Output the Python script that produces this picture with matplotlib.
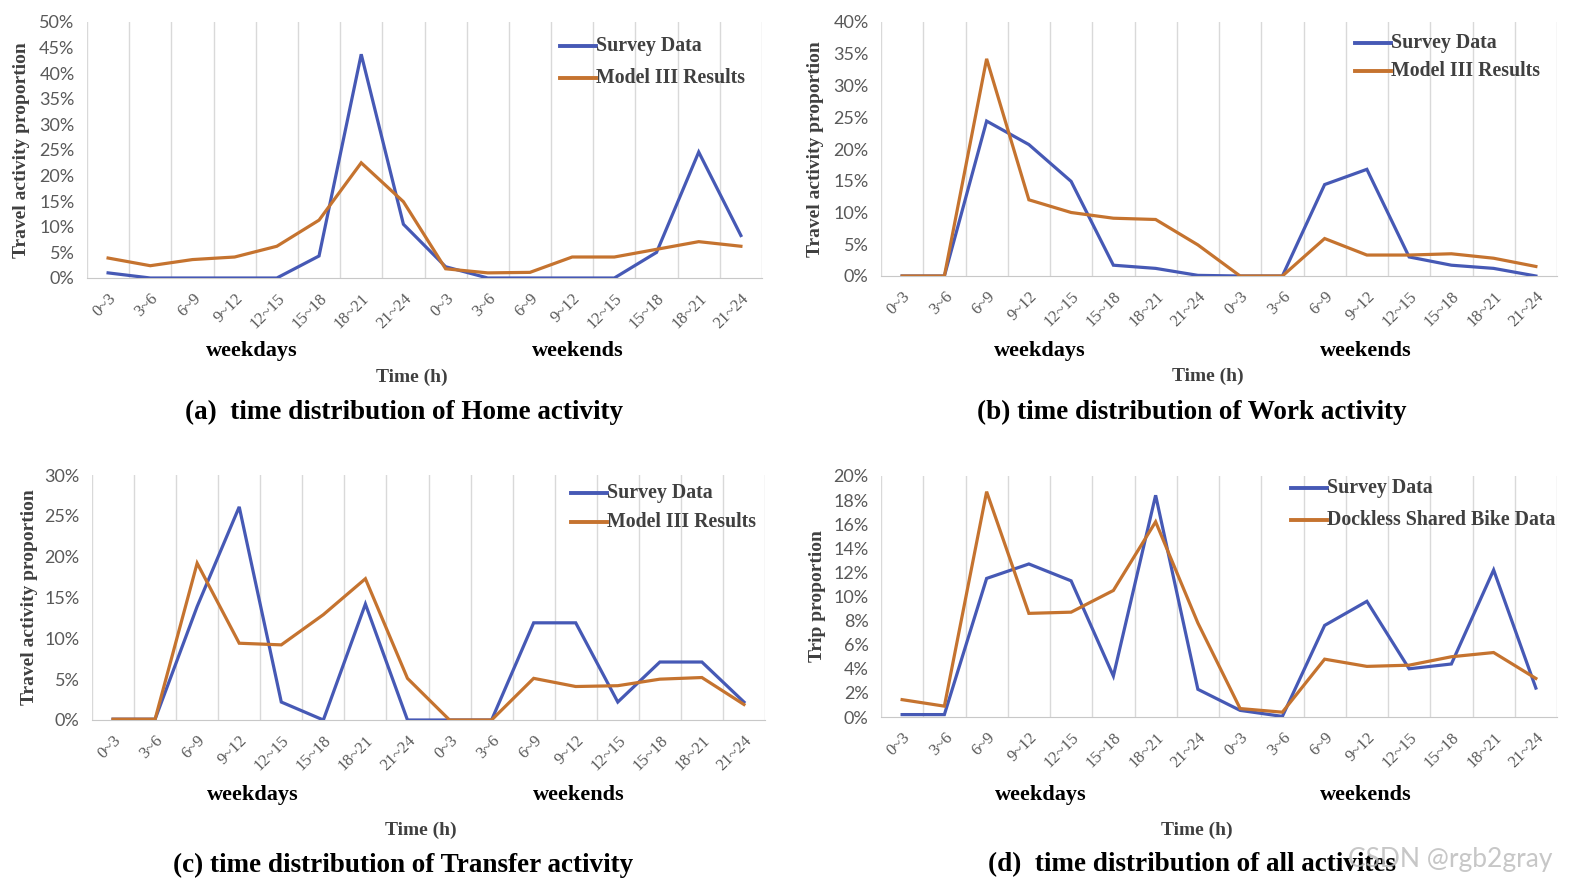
import matplotlib
matplotlib.use("Agg")
import matplotlib.pyplot as plt
import numpy as np

W, H = 1572, 890

categories = ["0~3", "3~6", "6~9", "9~12", "12~15", "15~18", "18~21", "21~24",
              "0~3", "3~6", "6~9", "9~12", "12~15", "15~18", "18~21", "21~24"]

home_survey = [1.0, 0, 0, 0, 0, 4.3, 43.7, 10.5, 2.2, 0, 0, 0, 0, 5.0, 24.6, 8.3]
home_model = [3.9, 2.4, 3.6, 4.1, 6.2, 11.3, 22.5, 14.9, 1.8, 1.0, 1.1, 4.1, 4.1, 5.6, 7.1, 6.2]

work_survey = [0, 0, 24.4, 20.7, 14.9, 1.7, 1.2, 0.1, 0, 0, 14.4, 16.8, 3.0, 1.7, 1.2, 0]
work_model = [0, 0, 34.2, 12.0, 10.0, 9.1, 8.9, 4.9, 0, 0, 5.9, 3.3, 3.3, 3.5, 2.8, 1.5]

transfer_survey = [0.1, 0.1, 13.9, 26.1, 2.2, 0, 14.2, 0, 0, 0, 11.9, 11.9, 2.2, 7.1, 7.1, 2.2]
transfer_model = [0.1, 0.1, 19.2, 9.4, 9.2, 12.9, 17.3, 5.1, 0, 0, 5.1, 4.1, 4.2, 5.0, 5.2, 1.9]

all_survey = [0.2, 0.2, 11.5, 12.7, 11.3, 3.4, 18.4, 2.3, 0.55, 0.05, 7.6, 9.6, 4.0, 4.4, 12.2, 2.4]
all_bike = [1.44, 0.9, 18.7, 8.6, 8.7, 10.5, 16.2, 7.8, 0.7, 0.4, 4.8, 4.2, 4.3, 5.0, 5.35, 3.2]

BLUE = "#4659B5"
ORANGE = "#C5732F"
SERIF = ["Liberation Serif", "DejaVu Serif"]
SANS = ["Lato", "DejaVu Sans"]
TXT = "#404040"
TICK = "#595959"

panels = [
    dict(box=(87, 762, 22, 278), s=home_survey, m=home_model, ymax=50, ystep=5,
         ylabel="Travel activity proportion", ylx=22,
         labels=["Survey Data", "Model III Results"], leg=(560, 36, 32),
         wd=(252, 578, 351), th=(412, 377), title=("(a)  time distribution of Home activity", 404, 412)),
    dict(box=(881, 1557, 22, 276), s=work_survey, m=work_model, ymax=40, ystep=5,
         ylabel="Travel activity proportion", ylx=816,
         labels=["Survey Data", "Model III Results"], leg=(1355, 33, 28),
         wd=(1040, 1366, 351), th=(1208, 376), title=("(b) time distribution of Work activity", 1192, 412)),
    dict(box=(92, 765, 475, 720), s=transfer_survey, m=transfer_model, ymax=30, ystep=5,
         ylabel="Travel activity proportion", ylx=30,
         labels=["Survey Data", "Model III Results"], leg=(571, 483, 29),
         wd=(253, 579, 795), th=(421, 830), title=("(c) time distribution of Transfer activity", 403, 865)),
    dict(box=(881, 1557, 476, 717), s=all_survey, m=all_bike, ymax=20, ystep=2,
         ylabel="Trip proportion", ylx=817,
         labels=["Survey Data", "Dockless Shared Bike Data"], leg=(1291, 478, 32),
         wd=(1041, 1366, 795), th=(1197, 830), title=("(d)  time distribution of all activites", 1192, 865)),
]

fig = plt.figure(figsize=(W / 100, H / 100), dpi=100)
fig.patch.set_facecolor("white")

def fx(px):
    return px / W

def fy(py):
    return 1 - py / H

x = np.arange(len(categories))
for p in panels:
    l, r, t, b = p["box"]
    ax = fig.add_axes([fx(l), fy(b), (r - l) / W, (b - t) / H])
    for k in range(len(categories) + 1):
        ax.axvline(k - 0.5, color="#D9D9D9", lw=1.0, zorder=0)
    ax.plot(x, p["s"], color=BLUE, lw=2.3, solid_joinstyle="miter", zorder=3)
    ax.plot(x, p["m"], color=ORANGE, lw=2.3, solid_joinstyle="miter", zorder=3)
    ax.set_xlim(-0.5, len(categories) - 0.5)
    ax.set_ylim(0, p["ymax"])
    yt = np.arange(0, p["ymax"] + 0.001, p["ystep"])
    ax.set_yticks(yt)
    ax.set_yticklabels([f"{int(v)}%" for v in yt], fontfamily=SANS, fontsize=13, color=TICK)
    ax.set_xticks(x)
    ax.set_xticklabels(categories, rotation=45, ha="right", va="top", rotation_mode="anchor",
                       fontfamily=SERIF, fontsize=12, color=TICK)
    ax.tick_params(length=0)
    ax.tick_params(axis="y", pad=9)
    ax.tick_params(axis="x", pad=9)
    for sp in ["top", "right", "left"]:
        ax.spines[sp].set_visible(False)
    ax.spines["bottom"].set_color("#C8C8C8")
    ax.set_facecolor("none")

    # y label
    fig.text(fx(p["ylx"]), fy((t + b) / 2), p["ylabel"], rotation=90, ha="center", va="center",
             fontfamily=SERIF, fontsize=14, fontweight="bold", color=TXT)

    # legend (manual)
    lx, ly, dy = p["leg"]
    for i, (lab, col) in enumerate(zip(p["labels"], [BLUE, ORANGE])):
        yy = ly + 10 + i * dy
        fig.add_artist(plt.Line2D([fx(lx), fx(lx + 36)], [fy(yy), fy(yy)], color=col, lw=2.8,
                                  transform=fig.transFigure))
        fig.text(fx(lx + 36), fy(yy), lab, ha="left", va="center", fontfamily=SERIF,
                 fontsize=14.3, fontweight="bold", color=TXT)

    wx1, wx2, wy = p["wd"]
    fig.text(fx(wx1), fy(wy), "weekdays", ha="center", va="center", fontfamily=SERIF,
             fontsize=16, fontweight="bold", color="black")
    fig.text(fx(wx2), fy(wy), "weekends", ha="center", va="center", fontfamily=SERIF,
             fontsize=16, fontweight="bold", color="black")
    tx, ty = p["th"]
    fig.text(fx(tx), fy(ty), "Time (h)", ha="center", va="center", fontfamily=SERIF,
             fontsize=14, fontweight="bold", color=TXT)
    tt, ttx, tty = p["title"]
    fig.text(fx(ttx), fy(tty), tt, ha="center", va="center", fontfamily=SERIF,
             fontsize=19.5, fontweight="bold", color="black")

fig.text(fx(1450), fy(860), "CSDN @rgb2gray", ha="center", va="center", fontfamily=SANS,
         fontsize=19, color="#BDBDBD", alpha=0.85, zorder=10)

fig.savefig("out.png", dpi=100, facecolor="white")
